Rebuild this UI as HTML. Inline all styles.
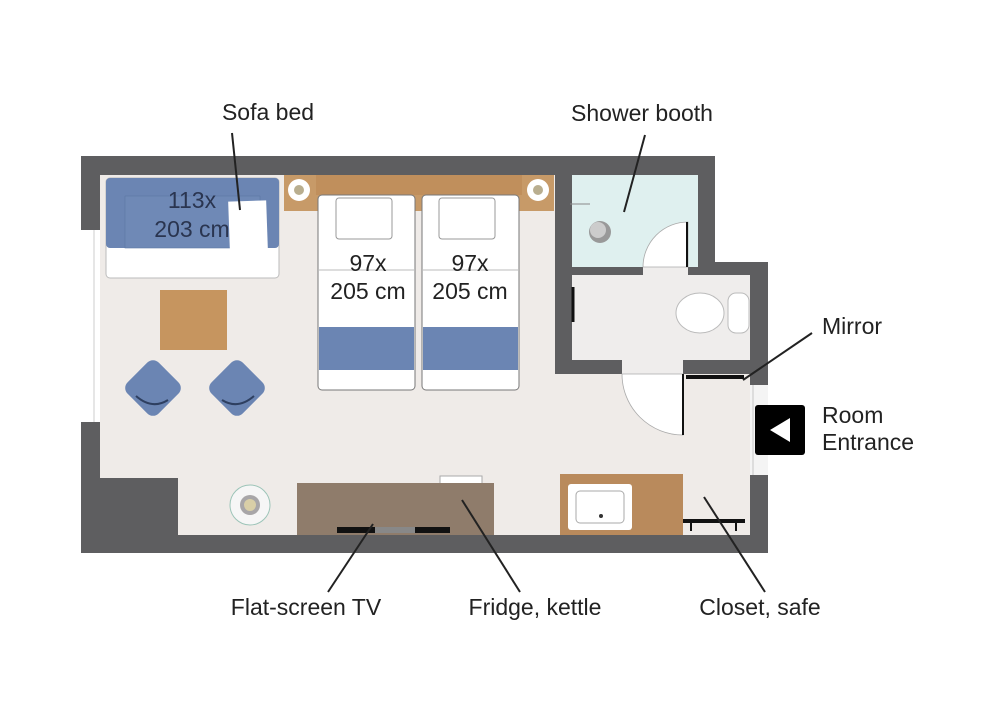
<!DOCTYPE html>
<html><head><meta charset="utf-8"><style>
html,body{margin:0;padding:0;background:#fff;}
svg{display:block;}
text{font-family:"Liberation Sans",sans-serif;fill:#222;}
</style></head><body>
<svg width="1000" height="705" viewBox="0 0 1000 705" xmlns="http://www.w3.org/2000/svg">
<rect x="81" y="156" width="634" height="397" fill="#5e5e60"/>
<rect x="555" y="262" width="213" height="291" fill="#5e5e60"/>
<rect x="100" y="175" width="455" height="360" fill="#efebe8"/>
<rect x="555" y="374" width="195" height="161" fill="#efebe8"/>
<rect x="178" y="478" width="380" height="57" fill="#efebe8"/>
<rect x="100" y="478" width="78" height="57" fill="#5e5e60"/>
<rect x="81" y="230" width="19" height="192" fill="#fff"/>
<line x1="94" y1="230" x2="94" y2="422" stroke="#ccc" stroke-width="1"/>
<rect x="750" y="385" width="18" height="90" fill="#f4f4f4"/>
<rect x="752" y="385" width="2" height="90" fill="#ddd"/>
<rect x="572" y="175" width="126" height="92" fill="#dff0ef"/>
<circle cx="600" cy="232" r="11" fill="#999"/>
<circle cx="598" cy="230" r="8" fill="#ccc"/>
<line x1="570" y1="204" x2="590" y2="204" stroke="#888" stroke-width="1"/>
<rect x="572" y="275" width="178" height="85" fill="#efedec"/>
<rect x="643" y="267" width="45" height="8" fill="#efedec"/>
<path d="M643,267 A45,45 0 0 1 688,222 L688,267 Z" fill="#fff" stroke="#aaa" stroke-width="0.8"/>
<line x1="687" y1="222" x2="687" y2="267" stroke="#111" stroke-width="2"/>
<ellipse cx="700" cy="313" rx="24" ry="20" fill="#fff" stroke="#bbb"/>
<rect x="728" y="293" width="21" height="40" rx="8" fill="#fff" stroke="#bbb"/>
<line x1="573" y1="287" x2="573" y2="322" stroke="#111" stroke-width="3"/>
<rect x="622" y="360" width="61" height="14" fill="#efedec"/>
<path d="M683,374 L683,435 A61,61 0 0 1 622,374 Z" fill="#fff" stroke="#aaa" stroke-width="0.8"/>
<line x1="683" y1="374" x2="683" y2="435" stroke="#111" stroke-width="2"/>
<rect x="686" y="375" width="58" height="4" fill="#111"/>
<rect x="106" y="178" width="173" height="100" rx="4" fill="#fff" stroke="#bbb"/>
<rect x="106" y="178" width="173" height="70" rx="4" fill="#6b85b3"/>
<rect x="125" y="196" width="135" height="52" fill="#6f89b6" stroke="#5d77a4" stroke-width="0.6"/>
<rect x="229" y="201" width="38" height="49" fill="#fff" transform="rotate(-2 248 225)"/>
<rect x="284" y="175" width="270" height="36" fill="#c79a68"/>
<rect x="316" y="175" width="206" height="20" fill="#c08f5c"/>
<circle cx="299" cy="190" r="11" fill="#fff"/><circle cx="299" cy="190" r="5" fill="#b9ae8f"/>
<circle cx="538" cy="190" r="11" fill="#fff"/><circle cx="538" cy="190" r="5" fill="#b9ae8f"/>
<rect x="318" y="195" width="97" height="195" rx="4" fill="#fff" stroke="#777"/>
<rect x="422" y="195" width="97" height="195" rx="4" fill="#fff" stroke="#777"/>
<rect x="336" y="198" width="56" height="41" rx="3" fill="#fff" stroke="#999"/>
<rect x="439" y="198" width="56" height="41" rx="3" fill="#fff" stroke="#999"/>
<line x1="318" y1="270" x2="415" y2="270" stroke="#bbb"/>
<line x1="422" y1="270" x2="519" y2="270" stroke="#bbb"/>
<rect x="319" y="327" width="95" height="43" fill="#6b85b3"/>
<rect x="423" y="327" width="95" height="43" fill="#6b85b3"/>
<rect x="160" y="290" width="67" height="60" fill="#c6955f"/>
<g transform="rotate(45 153 388)"><rect x="131" y="366" width="44" height="44" rx="8" fill="#6b85b3"/></g>
<path d="M136,396 Q152,410 168,400" stroke="#2e3f60" stroke-width="2" fill="none"/>
<g transform="rotate(45 237 388)"><rect x="215" y="366" width="44" height="44" rx="8" fill="#6b85b3"/></g>
<path d="M222,400 Q238,410 254,396" stroke="#2e3f60" stroke-width="2" fill="none"/>
<circle cx="250" cy="505" r="20" fill="#f6f6f6" stroke="#9cc4b8"/>
<circle cx="250" cy="505" r="10" fill="#a8a6a8"/><circle cx="250" cy="505" r="6" fill="#d9cfa7"/>
<rect x="440" y="476" width="42" height="8" fill="#fff" stroke="#aaa"/>
<rect x="297" y="483" width="197" height="52" fill="#8f7c6b"/>
<rect x="337" y="527" width="113" height="6" fill="#111"/>
<rect x="375" y="527" width="40" height="6" fill="#888"/>
<rect x="560" y="474" width="123" height="61" fill="#b98a5c"/>
<rect x="568" y="484" width="64" height="46" rx="3" fill="#fff"/>
<rect x="576" y="491" width="48" height="32" rx="4" fill="none" stroke="#aaa"/>
<circle cx="601" cy="516" r="2" fill="#333"/>
<rect x="683" y="519" width="62" height="4" fill="#111"/>
<rect x="690" y="519" width="2" height="12" fill="#111"/><rect x="735" y="519" width="2" height="12" fill="#111"/>
<rect x="755" y="405" width="50" height="50" rx="3" fill="#000"/>
<polygon points="770,430 790,418 790,442" fill="#fff"/>
<g font-size="23">
<text x="192" y="208" text-anchor="middle" style="fill:#2a3550">113x</text>
<text x="192" y="237" text-anchor="middle" style="fill:#2a3550">203 cm</text>
<text x="368" y="271" text-anchor="middle">97x</text>
<text x="368" y="299" text-anchor="middle">205 cm</text>
<text x="470" y="271" text-anchor="middle">97x</text>
<text x="470" y="299" text-anchor="middle">205 cm</text>
</g>
<g stroke="#222" stroke-width="2">
<line x1="232" y1="133" x2="240" y2="210"/>
<line x1="645" y1="135" x2="624" y2="212"/>
<line x1="812" y1="333" x2="743" y2="380"/>
<line x1="328" y1="592" x2="373" y2="524"/>
<line x1="520" y1="592" x2="462" y2="500"/>
<line x1="765" y1="592" x2="704" y2="497"/>
</g>
<g font-size="23">
<text x="268" y="120" text-anchor="middle">Sofa bed</text>
<text x="642" y="121" text-anchor="middle">Shower booth</text>
<text x="822" y="334">Mirror</text>
<text x="822" y="423">Room</text>
<text x="822" y="450">Entrance</text>
<text x="306" y="615" text-anchor="middle">Flat-screen TV</text>
<text x="535" y="615" text-anchor="middle">Fridge, kettle</text>
<text x="760" y="615" text-anchor="middle">Closet, safe</text>
</g>
</svg>
</body></html>
